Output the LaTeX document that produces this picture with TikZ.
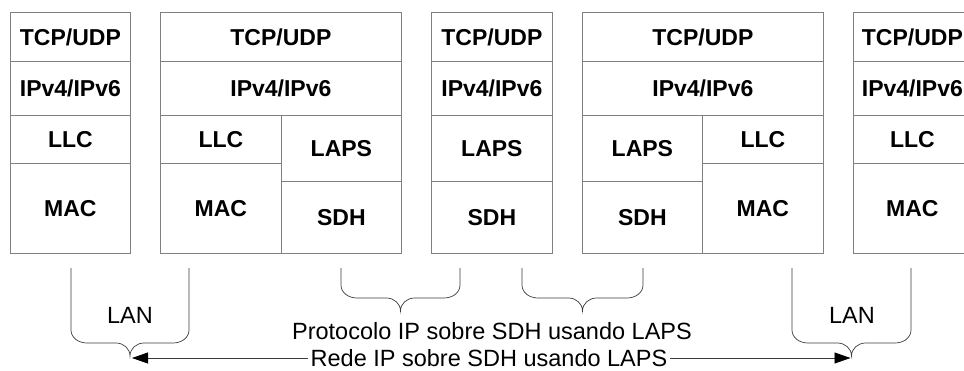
\documentclass[tikz,border=0pt]{standalone}
\usepackage{fontspec}
\setmainfont{Liberation Sans}
\usetikzlibrary{arrows.meta}
\definecolor{boxline}{RGB}{128,128,128}
\definecolor{braceline}{RGB}{60,60,60}
\tikzset{
  cell/.style={draw=boxline, line width=0.8pt, anchor=north west, inner sep=0pt,
    font=\fontsize{23}{27}\selectfont\bfseries, text height=16.5pt, text depth=0pt},
  lbl/.style={inner sep=0pt, font=\fontsize{23.5}{28}\selectfont, text height=16.8pt, text depth=0pt},
  brace/.style={draw=braceline, line width=0.7pt},
  link/.style={draw=braceline, line width=0.8pt,
    -{Triangle[length=16pt,width=11pt,color=black,fill=black]}}
}
% cell: name, x, y (top), width, height, text
\newcommand{\cellat}[6]{\node[cell, minimum width=#4pt, minimum height=#5pt] (#1) at (#2,#3) {#6};}
% brace: left x, right x, top y, horizontal y, tip name
\newcommand{\bracedraw}[5]{%
  \pgfmathsetmacro\bxm{(#1+#2)/2}%
  \pgfmathsetmacro\bxl{\bxm-14}%
  \pgfmathsetmacro\bxr{\bxm+14}%
  \pgfmathsetmacro\bsl{#1+16}%
  \pgfmathsetmacro\bsr{#2-16}%
  \pgfmathsetmacro\byc{#4-13}%
  \pgfmathsetmacro\byt{#4+13}%
  \coordinate (#5) at (\bxm,\byt);
  \draw[brace] (#1,#3) -- (#1,\byc) to[out=-90,in=180] (\bsl,#4)
    -- (\bxl,#4) to[out=0,in=90] (#5) to[out=90,in=180] (\bxr,#4)
    -- (\bsr,#4) to[out=0,in=-90] (#2,\byc) -- (#2,#3);}
\begin{document}
\begin{tikzpicture}[x=1pt,y=-1pt]
\useasboundingbox (0,0) rectangle (964,370);
\begin{scope}
\clip (0,0) rectangle (964,370);
% host A
\cellat{atcp}{10}{12}{120}{49}{TCP/UDP}
\cellat{aip}{10}{61}{120}{54}{IPv4/IPv6}
\cellat{allc}{10}{115}{120}{48}{LLC}
\cellat{amac}{10}{163}{120}{90}{MAC}
% router B
\cellat{btcp}{160}{12}{241}{49}{TCP/UDP}
\cellat{bip}{160}{61}{241}{54}{IPv4/IPv6}
\cellat{bllc}{160}{115}{121}{48}{LLC}
\cellat{bmac}{160}{163}{121}{90}{MAC}
\cellat{blaps}{281}{115}{120}{66}{LAPS}
\cellat{bsdh}{281}{181}{120}{72}{SDH}
% node C
\cellat{ctcp}{431}{12}{121}{49}{TCP/UDP}
\cellat{cip}{431}{61}{121}{54}{IPv4/IPv6}
\cellat{claps}{431}{115}{121}{66}{LAPS}
\cellat{csdh}{431}{181}{121}{72}{SDH}
% router D
\cellat{dtcp}{582}{12}{241}{49}{TCP/UDP}
\cellat{dip}{582}{61}{241}{54}{IPv4/IPv6}
\cellat{dlaps}{582}{115}{120}{66}{LAPS}
\cellat{dsdh}{582}{181}{120}{72}{SDH}
\cellat{dllc}{702}{115}{121}{48}{LLC}
\cellat{dmac}{702}{163}{121}{90}{MAC}
% host E
\cellat{etcp}{853}{12}{118}{49}{TCP/UDP}
\cellat{eip}{853}{61}{118}{54}{IPv4/IPv6}
\cellat{ellc}{853}{115}{118}{48}{LLC}
\cellat{emac}{853}{163}{118}{90}{MAC}
\end{scope}
% braces
\bracedraw{71}{189}{268}{343}{lanA}
\bracedraw{341}{460}{268}{298}{sdhB}
\bracedraw{522}{643}{268}{298}{sdhD}
\bracedraw{792}{911}{268}{343}{lanE}
% labels
\node[lbl] (lanAtxt) at (130,315) {LAN};
\node[lbl] (lanEtxt) at (852,315) {LAN};
\node[lbl] (proto) at (492,331) {Protocolo IP sobre SDH usando LAPS};
\node[lbl] (rede) at (489,358) {Rede IP sobre SDH usando LAPS};
% end-to-end arrows
\coordinate (ra) at ([xshift=2pt,yshift=-2pt]lanA);
\coordinate (re) at ([xshift=-1pt,yshift=-2pt]lanE);
\draw[link] ([xshift=-2pt]rede.west |- ra) -- (ra);
\draw[link] ([xshift=2pt]rede.east |- re) -- (re);
\end{tikzpicture}
\end{document}
